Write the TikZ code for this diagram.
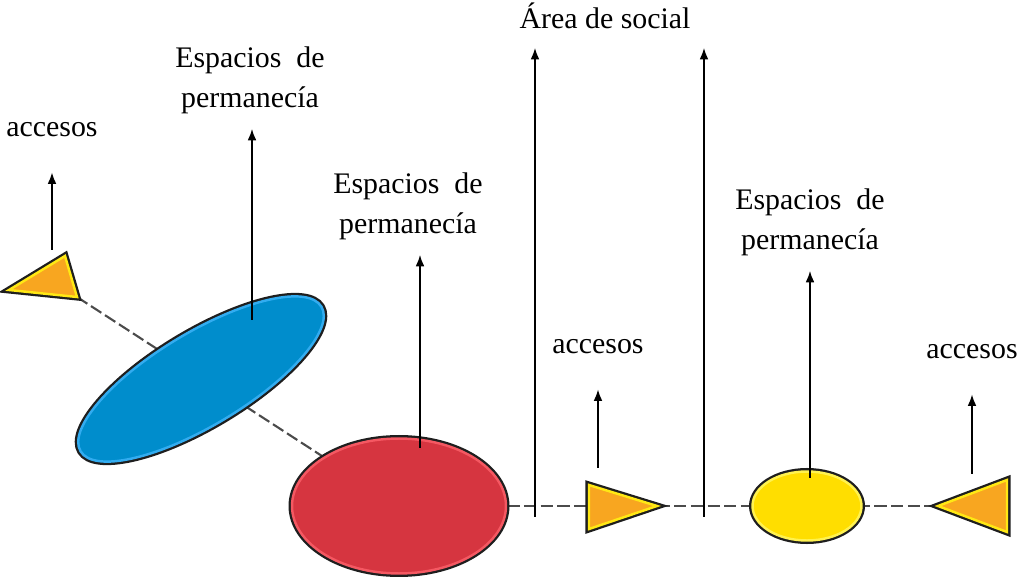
\documentclass[tikz,border=0pt]{standalone}
\usepackage{fontspec}
\setmainfont{Liberation Serif}
\usetikzlibrary{shapes.geometric,arrows.meta,backgrounds}

\definecolor{outline}{RGB}{30,30,30}
\definecolor{blueFill}{RGB}{0,141,204}
\definecolor{blueRing}{RGB}{50,172,240}
\definecolor{redFill}{RGB}{214,53,64}
\definecolor{redRing}{RGB}{245,88,98}
\definecolor{yellowFill}{RGB}{255,222,0}
\definecolor{yellowRing}{RGB}{255,242,80}
\definecolor{orangeFill}{RGB}{248,166,32}
\definecolor{orangeRing}{RGB}{255,232,20}

\begin{document}
\begin{tikzpicture}[x=0.02cm, y=-0.02cm, font=\fontsize{17}{22.8}\selectfont,
    zone/.style 2 args={ellipse, inner sep=0, fill=#1, draw=#2, line width=1.4pt,
      preaction={draw=outline, line width=4pt}},
    tri/.style={fill=orangeFill, draw=orangeRing, line width=1.4pt,
      preaction={draw=outline, line width=4pt}},
    link/.style={draw=outline!80, line width=1.2pt, dash pattern=on 7pt off 2.5pt},
    arr/.style={-{Latex[length=6.5pt,width=5pt]}, line width=0.8pt},
    lbl/.style={align=center, inner xsep=0, inner ysep=0.3cm},
    acc/.style={inner xsep=0, inner ysep=0.7cm}]
  \useasboundingbox (0,0) rectangle (1018,577);

  % zonas
  \node[zone={blueFill}{blueRing}, rotate=31, minimum width=5.62cm, minimum height=1.86cm] (blue) at (201,379) {};
  \node[zone={redFill}{redRing}, minimum width=4.28cm, minimum height=2.7cm] (red) at (399,506) {};
  \node[zone={yellowFill}{yellowRing}, minimum width=2.18cm, minimum height=1.38cm] (yellow) at (807,506) {};

  % accesos
  \coordinate (t1a) at (9,290);   \coordinate (t1b) at (65,256);   \coordinate (t1c) at (77,297);
  \coordinate (t2a) at (589,485); \coordinate (t2b) at (589,529); \coordinate (t2c) at (657,506);
  \coordinate (t3a) at (938,506); \coordinate (t3b) at (1007,480); \coordinate (t3c) at (1007,532);
  \filldraw[tri] (t1a) -- (t1b) -- (t1c) -- cycle;
  \filldraw[tri] (t2a) -- (t2c) -- (t2b) -- cycle;
  \filldraw[tri] (t3a) -- (t3b) -- (t3c) -- cycle;

  \begin{scope}[on background layer]
    \draw[link] (t1c) -- (red);
    \draw[link] (red.east) -- (t3a);
  \end{scope}

  % textos
  \node[acc] (accL) at (52,130) {accesos};
  \node[lbl] (perA) at (250,80) {Espacios\ \ de\\permanecía};
  \node[lbl] (perB) at (408,206) {Espacios\ \ de\\permanecía};
  \node (social) at (605,16) {Área de social};
  \node[acc] (accM) at (598,347) {accesos};
  \node[lbl] (perC) at (810,222) {Espacios\ \ de\\permanecía};
  \node[acc] (accR) at (972,352) {accesos};

  % flechas
  \coordinate (sAccL) at (52,250);
  \coordinate (sPerA) at (252,320);
  \coordinate (sPerB) at (420,448);
  \coordinate (sAccM) at (598,468);
  \coordinate (sPerC) at (810,478);
  \coordinate (sAccR) at (972,474);
  \foreach \s/\l in {sAccL/accL, sPerA/perA, sPerB/perB, sAccM/accM, sPerC/perC, sAccR/accR} {
    \draw[arr] (\s) -- (\s |- \l.south);
  }

  \coordinate (socLb) at (535,517); \coordinate (socLt) at (535,48);
  \coordinate (socRb) at (704,517); \coordinate (socRt) at (704,48);
  \draw[arr] (socLb) -- (socLt);
  \draw[arr] (socRb) -- (socRt);
\end{tikzpicture}
\end{document}
